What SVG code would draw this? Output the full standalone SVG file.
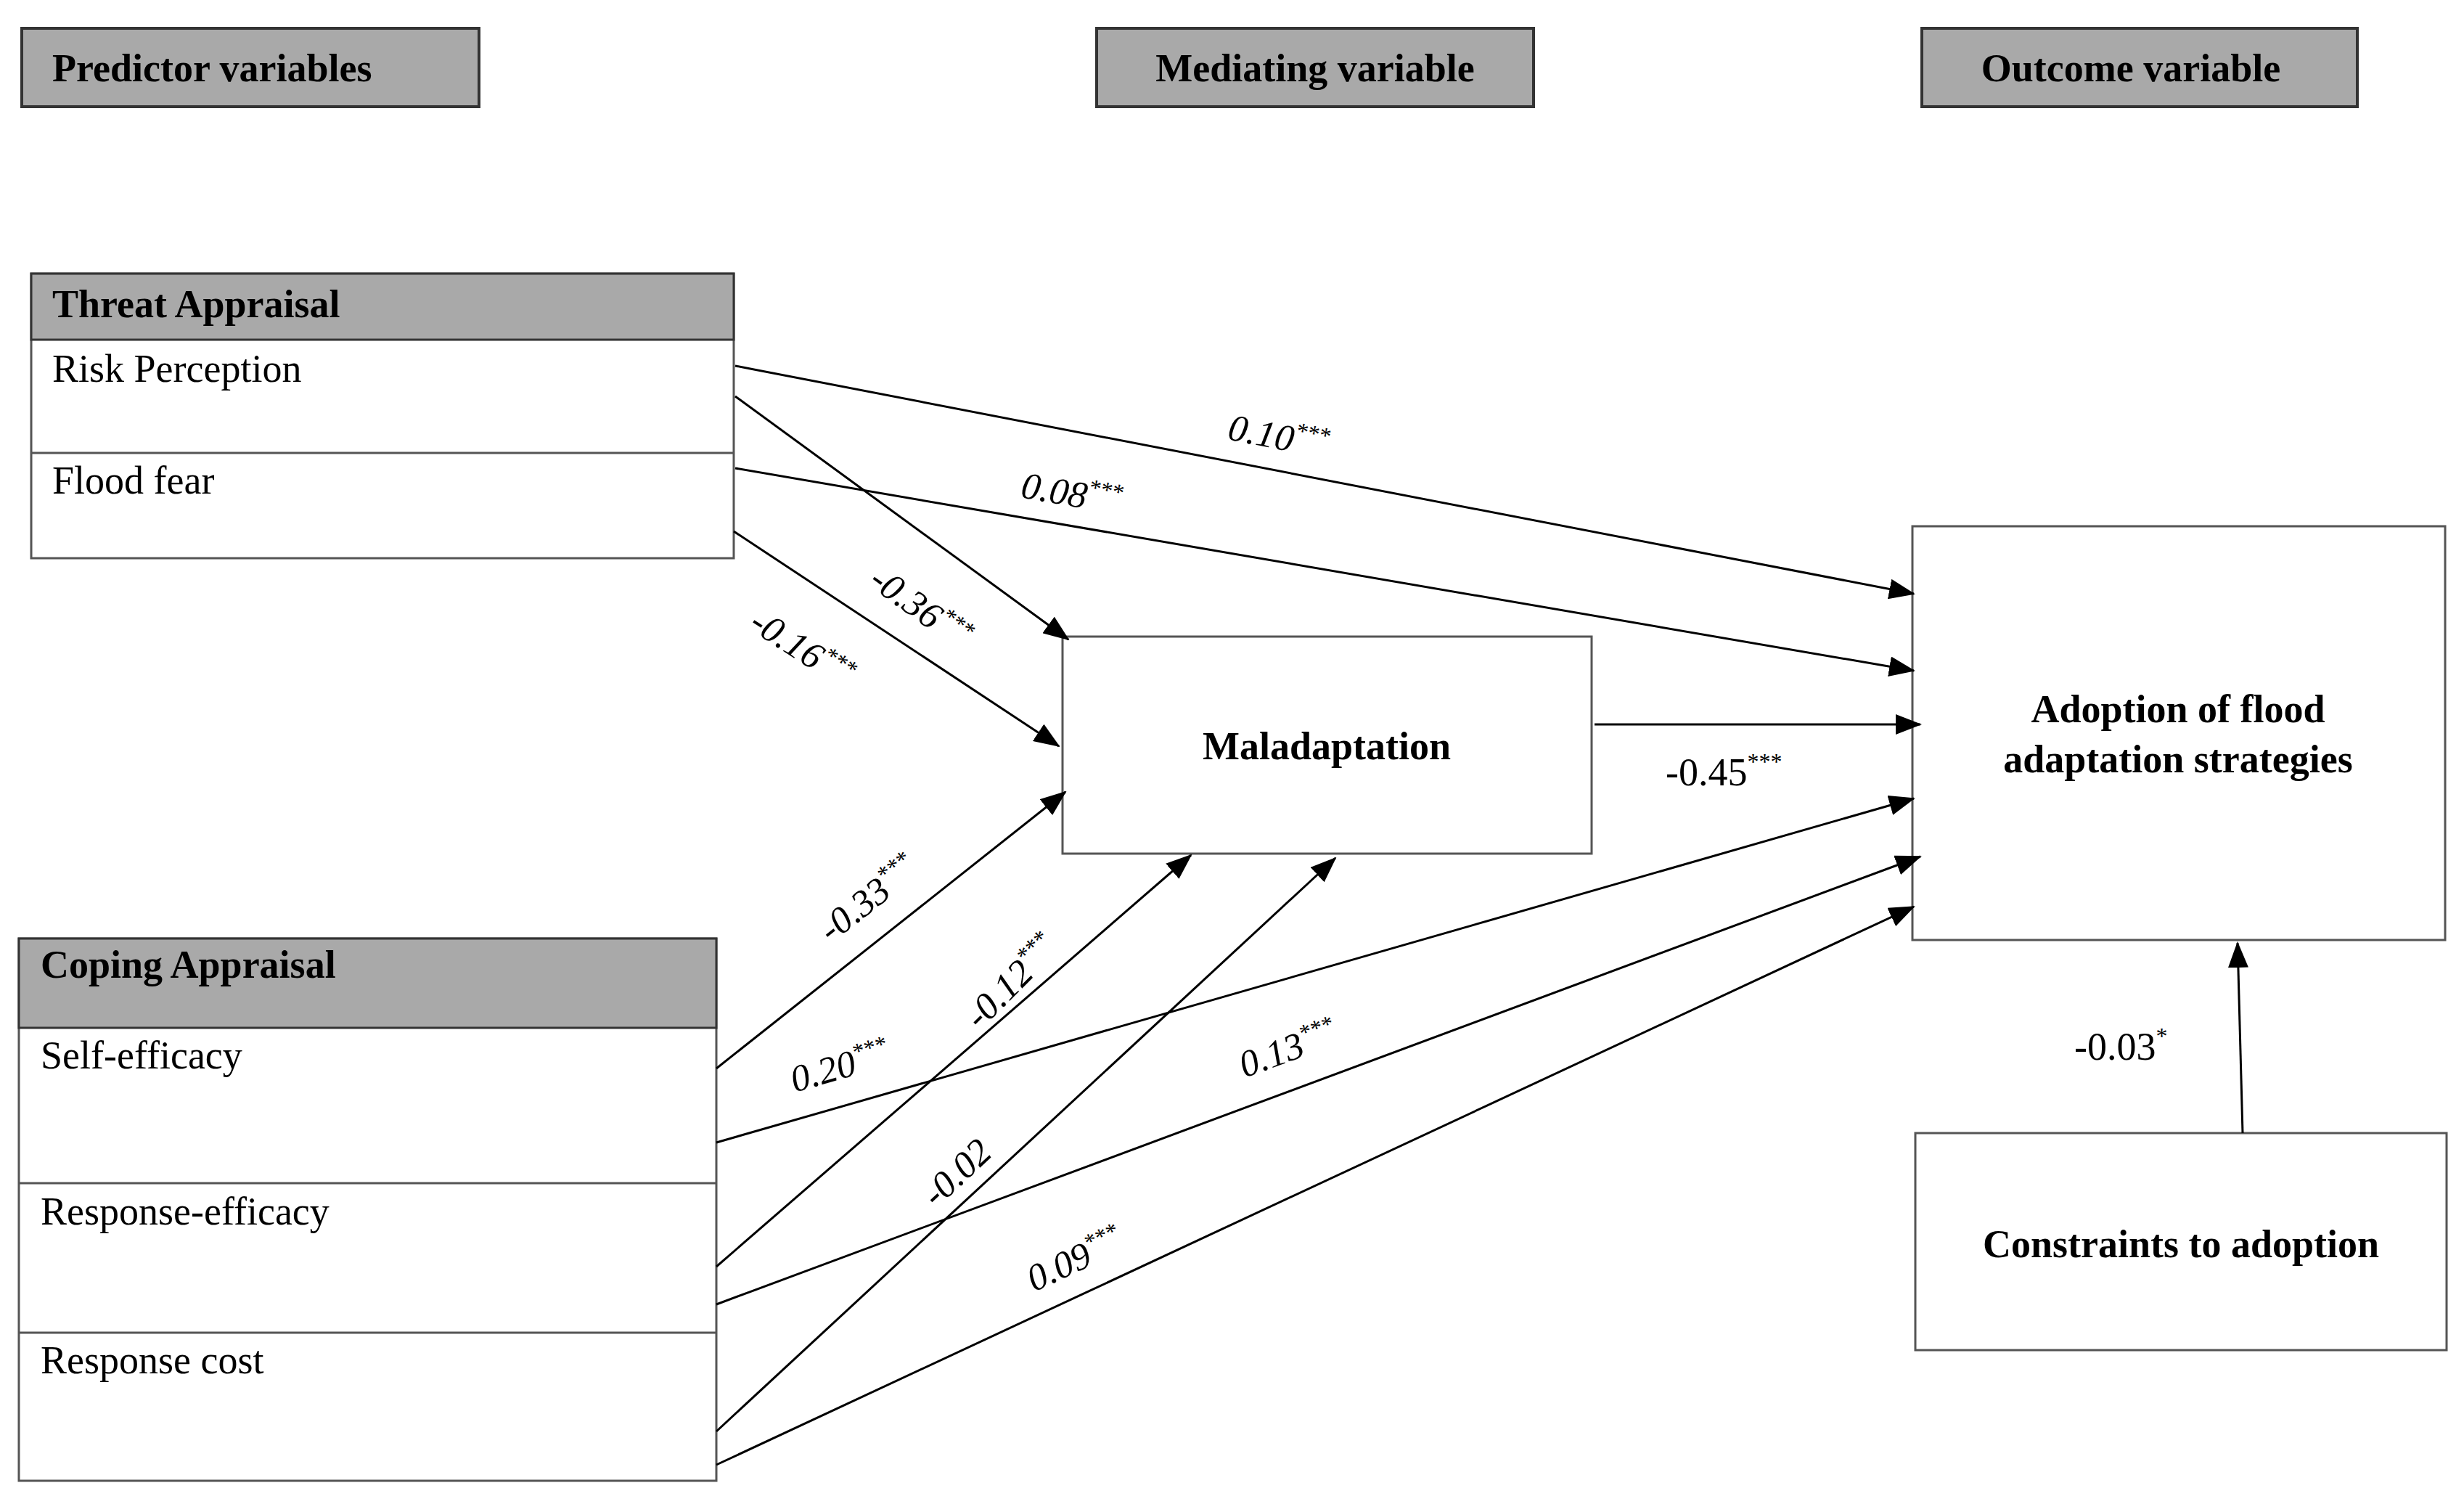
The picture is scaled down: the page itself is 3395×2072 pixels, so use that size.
<svg xmlns="http://www.w3.org/2000/svg" width="3395" height="2072" viewBox="0 0 3395 2072">
<style>
.box{fill:#fff;stroke:#555;stroke-width:3}
.hd{fill:#a9a9a9;stroke:#333;stroke-width:4}
.b{font-family:"Liberation Serif",serif;font-weight:bold;font-size:54px;fill:#000}
.t{font-family:"Liberation Serif",serif;font-size:54px;fill:#000}
.l{font-family:"Liberation Serif",serif;font-style:italic;font-size:52px;fill:#000}
.s{font-size:32px}
.c line{stroke:#000;stroke-width:3;marker-end:url(#a)}
</style>
<defs><marker id="a" markerUnits="userSpaceOnUse" markerWidth="36" markerHeight="28" refX="34" refY="14" orient="auto"><path d="M0,0 L36,14 L0,28 Z" fill="#000"/></marker></defs>
<g id="h1"><rect class="hd" x="30" y="39" width="630" height="108"/><text class="b" x="72" y="112">Predictor variables</text></g>
<g id="h2"><rect class="hd" x="1511" y="39" width="602" height="108"/><text class="b" x="1812" y="112" text-anchor="middle">Mediating variable</text></g>
<g id="h3"><rect class="hd" x="2648" y="39" width="600" height="108"/><text class="b" x="2936" y="112" text-anchor="middle">Outcome variable</text></g>
<g id="threat">
<rect class="box" x="43" y="377" width="968" height="392"/>
<rect class="hd" x="43" y="377" width="968" height="91" style="stroke-width:3"/>
<line x1="43" y1="624" x2="1011" y2="624" stroke="#555" stroke-width="3"/>
<text class="b" x="72" y="437">Threat Appraisal</text>
<text class="t" x="72" y="526">Risk Perception</text>
<text class="t" x="72" y="680">Flood fear</text>
</g>
<g id="coping">
<rect class="box" x="26" y="1293" width="961" height="747"/>
<rect class="hd" x="26" y="1293" width="961" height="123" style="stroke-width:3"/>
<line x1="26" y1="1630" x2="987" y2="1630" stroke="#555" stroke-width="3"/>
<line x1="26" y1="1836" x2="987" y2="1836" stroke="#555" stroke-width="3"/>
<text class="b" x="56" y="1347">Coping Appraisal</text>
<text class="t" x="56" y="1472">Self-efficacy</text>
<text class="t" x="56" y="1687">Response-efficacy</text>
<text class="t" x="56" y="1892">Response cost</text>
</g>
<g id="mal"><rect class="box" x="1464" y="877" width="729" height="299"/><text class="b" x="1828" y="1046" text-anchor="middle">Maladaptation</text></g>
<g id="adopt"><rect class="box" x="2635" y="725" width="734" height="570"/><text class="b" x="3001" y="995" text-anchor="middle">Adoption of flood</text><text class="b" x="3001" y="1064" text-anchor="middle">adaptation strategies</text></g>
<g id="constraints"><rect class="box" x="2639" y="1561" width="732" height="299"/><text class="b" x="3005" y="1732" text-anchor="middle">Constraints to adoption</text></g>
<g id="connectors" class="c">
<line x1="1013" y1="504" x2="2637" y2="818"/>
<line x1="1013" y1="645" x2="2637" y2="924"/>
<line x1="1013" y1="546" x2="1472" y2="881"/>
<line x1="1011" y1="732" x2="1459" y2="1028"/>
<line x1="2197" y1="998" x2="2646" y2="998"/>
<line x1="987" y1="1472" x2="1468" y2="1091"/>
<line x1="987" y1="1745" x2="1641" y2="1178"/>
<line x1="987" y1="1972" x2="1840" y2="1182"/>
<line x1="987" y1="1574" x2="2637" y2="1100"/>
<line x1="987" y1="1797" x2="2646" y2="1180"/>
<line x1="987" y1="2018" x2="2637" y2="1249"/>
<line x1="3090" y1="1561" x2="3083" y2="1299"/>
</g>
<g id="labels">
<text class="l" transform="translate(1690,605) rotate(11)">0.10<tspan class="s" dy="-20">***</tspan></text>
<text class="l" transform="translate(1405,685) rotate(10)">0.08<tspan class="s" dy="-20">***</tspan></text>
<text class="l" transform="translate(1195,805) rotate(36)">-0.36<tspan class="s" dy="-20">***</tspan></text>
<text class="l" transform="translate(1030,865) rotate(33)">-0.16<tspan class="s" dy="-20">***</tspan></text>
<text class="t" x="2295" y="1082">-0.45<tspan class="s" dy="-22">***</tspan></text>
<text class="l" transform="translate(1145,1300) rotate(-38)">-0.33<tspan class="s" dy="-20">***</tspan></text>
<text class="l" transform="translate(1350,1420) rotate(-45)">-0.12<tspan class="s" dy="-20">***</tspan></text>
<text class="l" transform="translate(1290,1665) rotate(-43)">-0.02</text>
<text class="l" transform="translate(1095,1505) rotate(-16)">0.20<tspan class="s" dy="-20">***</tspan></text>
<text class="l" transform="translate(1715,1485) rotate(-20)">0.13<tspan class="s" dy="-20">***</tspan></text>
<text class="l" transform="translate(1425,1780) rotate(-25)">0.09<tspan class="s" dy="-20">***</tspan></text>
<text class="t" x="2858" y="1460">-0.03<tspan class="s" dy="-22">*</tspan></text>
</g>
</svg>
